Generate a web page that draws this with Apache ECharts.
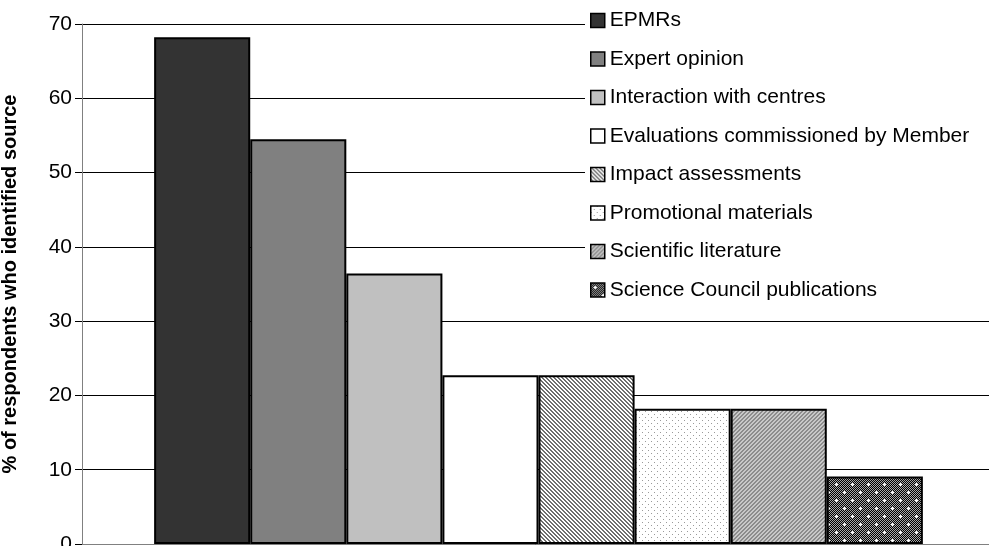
<!DOCTYPE html>
<html>
<head>
<meta charset="utf-8">
<script src="https://cdn.jsdelivr.net/npm/echarts@6/dist/echarts.min.js"></script>
<style>
  html, body { margin: 0; padding: 0; background: #fff; }
  #chart { width: 989px; height: 546px; }
</style>
</head>
<body>
<div id="chart"></div>
<script>
// sources named by respondents, one bar each
var sources = ['EPMRs', 'Expert opinion', 'Interaction with centres',
    'Evaluations commissioned by Member', 'Impact assessments',
    'Promotional materials', 'Scientific literature', 'Science Council publications'];
var percents = [68.2, 54.5, 36.4, 22.7, 22.7, 18.2, 18.2, 9.1];   // % of respondents
var yTicks = [0, 10, 20, 30, 40, 50, 60, 70];

// small hatch patterns, drawn pixel by pixel
function makePattern(size, paint) {
    var c = document.createElement('canvas');
    c.width = size; c.height = size;
    var ctx = c.getContext('2d');
    for (var y = 0; y < size; y++) {
        for (var x = 0; x < size; x++) {
            ctx.fillStyle = paint(x, y);
            ctx.fillRect(x, y, 1, 1);
        }
    }
    return { image: c, repeat: 'repeat' };
}

var fills = [
    '#333333',
    '#808080',
    '#c0c0c0',
    '#ffffff',
    // back-slash stripes
    makePattern(8, function (x, y) { return ((x - y + 16) % 4 < 2) ? '#6e6e6e' : '#ffffff'; }),
    // sparse dots
    makePattern(6, function (x, y) { return ((x == 0 && y == 0) || (x == 3 && y == 3)) ? '#9a9a9a' : '#ffffff'; }),
    // forward-slash stripes on grey
    makePattern(8, function (x, y) { return ((x + y) % 4 < 2) ? '#8c8c8c' : '#c8c8c8'; }),
    // dark checker with white crosses
    makePattern(16, function (x, y) {
        function cross(cx, cy) {
            return (x == cx && Math.abs(y - cy) <= 1) || (y == cy && Math.abs(x - cx) <= 1);
        }
        if (cross(4, 4) || cross(12, 12)) return '#ffffff';
        return ((x + y) % 2) ? '#000000' : '#a8a8a8';
    })
];

var myChart = echarts.init(document.getElementById('chart'));

var series = [];
for (var i = 0; i < sources.length; i++) {
    series.push({
        name: sources[i],
        type: 'bar',
        barGap: '0%',
        barCategoryGap: '15.8%',
        data: [percents[i]],
        itemStyle: { color: fills[i], borderColor: '#000', borderWidth: 2 },
        emphasis: { disabled: true }
    });
}

var option = {
    animation: false,
    textStyle: { fontFamily: 'Liberation Sans, Arial, sans-serif' },
    // plot runs a little past the right edge, as in the original
    grid: { left: 82, right: -6, top: 24, bottom: 2, outerBoundsMode: 'none', containLabel: false },
    legend: {
        orient: 'vertical',
        left: 585,
        top: 5,
        padding: [5, 30, 5, 5],
        backgroundColor: '#ffffff',
        itemWidth: 14,
        itemHeight: 14,
        itemGap: 17.5,
        icon: 'rect',
        itemStyle: { borderWidth: 1.5, borderColor: '#000' },
        textStyle: { fontSize: 21, color: '#000' },
        data: sources
    },
    xAxis: {
        type: 'category',
        data: [''],
        axisLine: { lineStyle: { color: '#808080' } },
        axisTick: { show: false },
        axisLabel: { show: false }
    },
    yAxis: {
        type: 'value',
        min: yTicks[0],
        max: yTicks[yTicks.length - 1],
        interval: 10,
        name: '% of respondents who identified source',
        nameLocation: 'middle',
        nameRotate: 90,
        nameGap: 62,
        nameTextStyle: { fontSize: 20, fontWeight: 'bold', color: '#000' },
        axisLine: { show: true, lineStyle: { color: '#808080' } },
        axisTick: { show: true, inside: false, length: 7, lineStyle: { color: '#000' } },
        axisLabel: { fontSize: 21, color: '#000', margin: 10 },
        splitLine: { lineStyle: { color: '#000', width: 1 } }
    },
    series: series
};

myChart.setOption(option);
</script>
</body>
</html>
